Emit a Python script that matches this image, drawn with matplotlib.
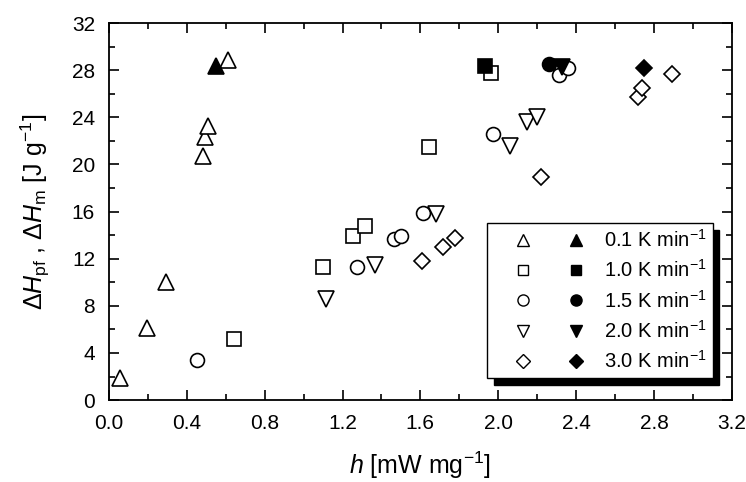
import matplotlib
matplotlib.use("Agg")
import matplotlib.pyplot as plt
from matplotlib.lines import Line2D
from matplotlib.legend_handler import HandlerTuple
from matplotlib.ticker import MultipleLocator

plt.rcParams['font.family'] = ['Liberation Sans', 'DejaVu Sans']
plt.rcParams['mathtext.fontset'] = 'custom'
plt.rcParams['mathtext.rm'] = 'Liberation Sans'
plt.rcParams['mathtext.it'] = 'Liberation Sans:italic'
plt.rcParams['mathtext.bf'] = 'Liberation Sans:bold'

rates = ["0.1 K min$^{-1}$", "1.0 K min$^{-1}$", "1.5 K min$^{-1}$",
         "2.0 K min$^{-1}$", "3.0 K min$^{-1}$"]
markers = ['^', 's', 'o', 'v', 'D']
sizes = [11.5, 9.5, 10, 11.5, 8.5]

# open symbols (Delta H_pf)
h_01 = [0.056, 0.197, 0.293, 0.484, 0.493, 0.51, 0.61]
H_01 = [1.9, 6.1, 10.0, 20.7, 22.3, 23.3, 28.9]
h_10 = [0.644, 1.10, 1.255, 1.315, 1.645, 1.965]
H_10 = [5.2, 11.3, 13.9, 14.8, 21.5, 27.8]
h_15 = [0.455, 1.277, 1.464, 1.50, 1.614, 1.974, 2.31, 2.36]
H_15 = [3.4, 11.3, 13.7, 13.95, 15.9, 22.6, 27.6, 28.2]
h_20 = [1.115, 1.366, 1.68, 2.063, 2.15, 2.197]
H_20 = [8.6, 11.5, 15.8, 21.6, 23.6, 24.05]
h_30 = [1.61, 1.717, 1.78, 2.22, 2.72, 2.74, 2.895]
H_30 = [11.8, 13.0, 13.8, 18.9, 25.7, 26.5, 27.7]

# filled symbols (Delta H_m)
hm = [0.55, 1.93, 2.26, 2.33, 2.75]
Hm = [28.4, 28.4, 28.5, 28.3, 28.2]

open_h = [h_01, h_10, h_15, h_20, h_30]
open_H = [H_01, H_10, H_15, H_20, H_30]

fig = plt.figure(figsize=(7.46, 4.82), dpi=100)
ax = fig.add_axes([0.146, 0.170, 0.835, 0.782])

handles = []
for i in range(5):
    ax.plot(open_h[i], open_H[i], linestyle='none', marker=markers[i],
            ms=sizes[i], mfc='white', mec='black', mew=1.2)
    ax.plot([hm[i]], [Hm[i]], linestyle='none', marker=markers[i],
            ms=sizes[i], mfc='black', mec='black', mew=1.2)
    ho = Line2D([], [], linestyle='none', marker=markers[i], ms=sizes[i] * 0.8,
                mfc='white', mec='black', mew=1.0)
    hf = Line2D([], [], linestyle='none', marker=markers[i], ms=sizes[i] * 0.8,
                mfc='black', mec='black', mew=1.0)
    handles.append((ho, hf))

ax.set_xlim(0, 3.2)
ax.set_ylim(0, 32)
ax.xaxis.set_major_locator(MultipleLocator(0.4))
ax.xaxis.set_minor_locator(MultipleLocator(0.2))
ax.yaxis.set_major_locator(MultipleLocator(4))
ax.yaxis.set_minor_locator(MultipleLocator(2))
ax.xaxis.set_major_formatter(matplotlib.ticker.FormatStrFormatter('%.1f'))
ax.tick_params(which='both', direction='in', top=True, right=True, width=1.2,
               labelsize=15, pad=10)
ax.tick_params(which='major', length=7)
ax.tick_params(which='minor', length=4)
for s in ax.spines.values():
    s.set_linewidth(1.3)

ax.set_xlabel(r"$\mathit{h}$ [mW mg$^{-1}$]", fontsize=18, labelpad=12)
ax.set_ylabel(r"$\Delta\mathit{H}_{\rm pf}$ , $\Delta\mathit{H}_{\rm m}$ [J g$^{-1}$]",
              fontsize=18, labelpad=14)

leg = ax.legend(handles, rates, handler_map={tuple: HandlerTuple(ndivide=None, pad=-0.35)},
                loc='lower right', bbox_to_anchor=(0.969, 0.058), fontsize=14.5,
                handlelength=5.6, handletextpad=-0.1, labelspacing=0.42,
                borderpad=0.3, borderaxespad=0, frameon=True, fancybox=False,
                framealpha=1, edgecolor='black',
                shadow={'ox': 5, 'oy': -5, 'color': 'black', 'alpha': 1})
leg.get_frame().set_linewidth(1.0)

fig.savefig("out.png", dpi=100)
